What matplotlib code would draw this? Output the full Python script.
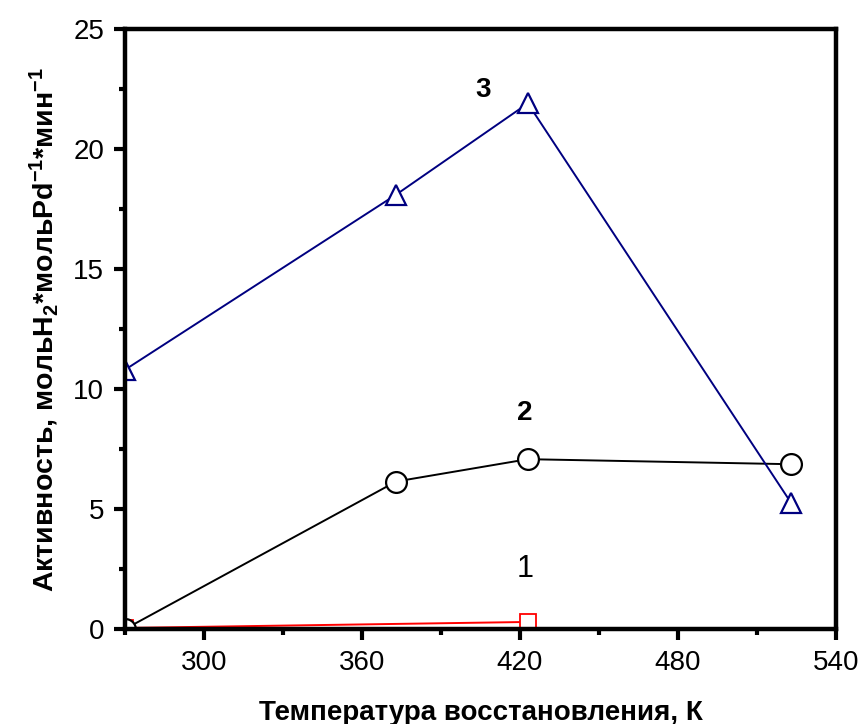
import matplotlib
matplotlib.use("Agg")
import matplotlib.pyplot as plt
from matplotlib.ticker import MultipleLocator

plt.rcParams['font.family'] = ['Liberation Sans', 'DejaVu Sans']
plt.rcParams['mathtext.fontset'] = 'custom'
plt.rcParams['mathtext.rm'] = 'Liberation Sans:bold'
plt.rcParams['mathtext.it'] = 'Liberation Sans:bold'
plt.rcParams['mathtext.bf'] = 'Liberation Sans:bold'

# Data
x1 = [270, 423]
y1 = [0.05, 0.3]
x2 = [270, 373, 423, 523]
y2 = [0.0, 6.15, 7.08, 6.87]
x3 = [270, 373, 423, 523]
y3 = [10.8, 18.1, 21.9, 5.25]

xticks = [300, 360, 420, 480, 540]
yticks = [0, 5, 10, 15, 20, 25]

fig = plt.figure(figsize=(8.61, 7.24), dpi=100)
ax = fig.add_axes([0.145, 0.131, 0.826, 0.829])

ax.plot(x1, y1, color='#ff0000', lw=1.4, marker='s', ms=11.5, mfc='white', mec='#ff0000', mew=1.3, clip_on=True)
ax.plot(x2, y2, color='black', lw=1.4, marker='o', ms=15, mfc='white', mec='black', mew=1.6, clip_on=True)
ax.plot(x3, y3, color='#000080', lw=1.4, marker='^', ms=15, mfc='white', mec='#000080', mew=1.6, clip_on=True)

ax.set_xlim(270, 540)
ax.set_ylim(0, 25)
ax.set_xticks(xticks)
ax.set_yticks(yticks)
ax.xaxis.set_minor_locator(MultipleLocator(30))
ax.yaxis.set_minor_locator(MultipleLocator(2.5))

for s in ax.spines.values():
    s.set_linewidth(3.2)

ax.tick_params(which='major', direction='out', length=8, width=3, labelsize=20, pad=7)
ax.tick_params(which='minor', direction='out', length=4, width=3)
ax.tick_params(top=False, right=False, which='both')

ax.text(406, 22.45, '3', fontsize=20, fontweight='bold', ha='center', va='center')
ax.text(422, 9.0, '2', fontsize=20, fontweight='bold', ha='center', va='center')
ax.text(422, 2.5, '1', fontsize=22, ha='center', va='center')

ax.set_xlabel('Температура восстановления, К', fontsize=20, fontweight='bold', labelpad=17)
ax.set_ylabel('Активность, мольH$_2$*мольPd$^{-1}$*мин$^{-1}$', fontsize=20.5, fontweight='bold', labelpad=9)

fig.savefig('out.png', dpi=100)
